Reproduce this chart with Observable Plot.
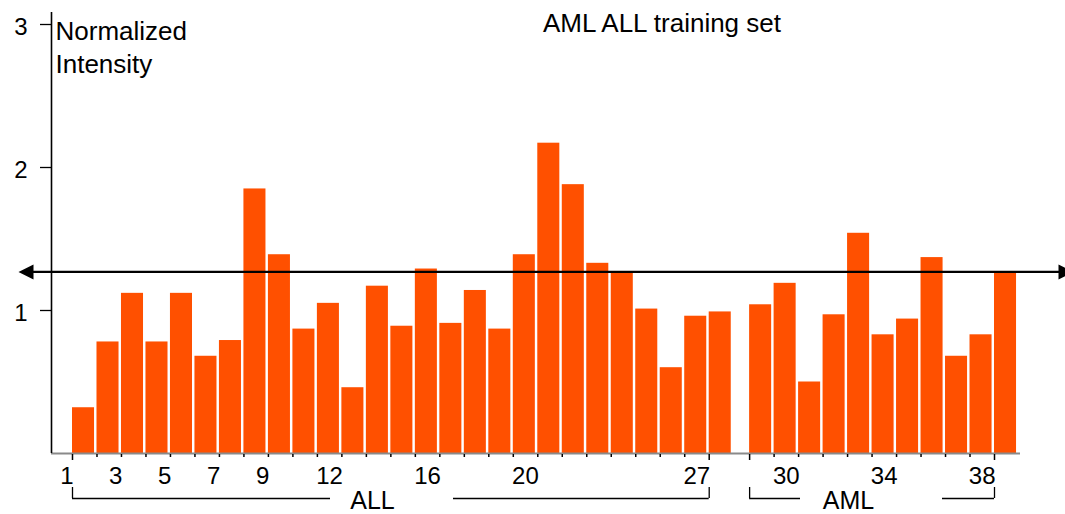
<!DOCTYPE html>
<html>
<head>
<meta charset="utf-8">
<script src="https://cdn.jsdelivr.net/npm/d3@7"></script>
<script src="https://cdn.jsdelivr.net/npm/@observablehq/plot@0.6"></script>
<style>
  html, body { margin: 0; padding: 0; background: #fff; overflow: hidden; }
</style>
</head>
<body>
<div id="chart"></div>
<script>
// ---- data ----
const title = "AML ALL training set";
const yLabel = "Normalized\nIntensity";
const groups = ["ALL", "AML"];
const allValues = [0.32, 0.78, 1.12, 0.78, 1.12, 0.68, 0.79, 1.85, 1.39, 0.87,
                   1.05, 0.46, 1.17, 0.89, 1.29, 0.91, 1.14, 0.87, 1.39, 2.17,
                   1.88, 1.33, 1.27, 1.01, 0.60, 0.96, 0.99];
const amlValues = [1.04, 1.19, 0.50, 0.97, 1.54, 0.83, 0.94, 1.37, 0.68, 0.83, 1.26];
const xTickLabels = [1, 3, 5, 7, 9, 12, 16, 20, 27, 30, 34, 38];
const yTicks = [1, 2, 3];
const threshold = 1.27;

// ---- layout ----
const groupGap = 0.65;     // extra slot space between ALL and AML
const barFrac = 0.9;       // bar width as a fraction of a slot
const nAll = allValues.length;
const slot = (i) => (i - 1) + (i > nAll ? groupGap : 0);

const samples = [
  ...allValues.map((v, k) => ({sample: k + 1, group: "ALL", value: v})),
  ...amlValues.map((v, k) => ({sample: nAll + k + 1, group: "AML", value: v}))
].map(d => ({...d, u: slot(d.sample)}));

const lastSlot = slot(samples.length);
const xRange = [72, 994];
const pxPerU = (xRange[1] - xRange[0]) / lastSlot;
const toU = (px) => (px - xRange[0]) / pxPerU;
const axisU = toU(51);

const groupEnds = groups.map(g => {
  const s = samples.filter(d => d.group === g);
  return {group: g, first: s[0].u, last: s[s.length - 1].u};
});
const longTickSamples = new Set(groups.flatMap(g => {
  const s = samples.filter(d => d.group === g);
  return [s[0].sample, s[s.length - 1].sample];
}));

const bracketPx = {ALL: {text: 372, gapFrom: 330, gapTo: 453},
                   AML: {text: 848, gapFrom: 800, gapTo: 942}};
const bracketSegments = groupEnds.flatMap(e => [
  {x1: e.first, x2: toU(bracketPx[e.group].gapFrom)},
  {x1: toU(bracketPx[e.group].gapTo), x2: e.last}
]);
const bracketText = groupEnds.map(e => ({group: e.group, u: toU(bracketPx[e.group].text)}));

const labelData = xTickLabels.map(n => ({label: String(n), u: slot(n)}));

const triRight = {draw(ctx, size) { const r = Math.sqrt(size / Math.PI); ctx.moveTo(r, 0); ctx.lineTo(-r, -r); ctx.lineTo(-r, r); ctx.closePath(); }};
const triLeft  = {draw(ctx, size) { const r = Math.sqrt(size / Math.PI); ctx.moveTo(-r, 0); ctx.lineTo(r, -r); ctx.lineTo(r, r); ctx.closePath(); }};

const font = "'Liberation Sans', Arial, Helvetica, sans-serif";

const chart = Plot.plot({
  width: 1065,
  height: 514,
  margin: 0,
  style: {fontFamily: font, fontSize: "24px", background: "#fff", color: "#000", overflow: "hidden"},
  x: {domain: [0, lastSlot], range: xRange, axis: null},
  y: {domain: [0, 3], range: [453, 24], axis: null},
  marks: [
    // bars
    Plot.rect(samples, {x1: "u", x2: d => d.u + barFrac, y1: 0, y2: "value", fill: "#ff5000"}),
    // x baseline (gray)
    Plot.ruleY([0], {x1: axisU, x2: toU(1020), stroke: "#8a8a8a", strokeWidth: 2}),
    // y axis line
    Plot.ruleX([axisU], {y1: 0, y2: 3.084, stroke: "#000", strokeWidth: 1.6}),
    // y ticks
    Plot.ruleY(yTicks, {x1: axisU, x2: axisU, insetLeft: -11, stroke: "#000", strokeWidth: 1.3}),
    Plot.text(yTicks, {x: axisU, y: d => d, text: d => String(d), textAnchor: "end", dx: -24, dy: 3, fontSize: 24}),
    // x ticks at bar left edges
    Plot.ruleX(samples.filter(d => !longTickSamples.has(d.sample)), {x: "u", y1: 0, y2: 0, insetTop: 1, insetBottom: -4, stroke: "#000", strokeWidth: 1.5}),
    Plot.ruleX(samples.filter(d => longTickSamples.has(d.sample)), {x: "u", y1: 0, y2: 0, insetTop: 1, insetBottom: -7, stroke: "#000", strokeWidth: 1.5}),
    // x tick labels (right-aligned to tick)
    Plot.text(labelData, {x: "u", y: 0, text: "label", textAnchor: "end", lineAnchor: "bottom", dx: 1, dy: 30, fontSize: 24}),
    // group brackets
    Plot.ruleX(groupEnds.flatMap(e => [e.first, e.last]), {y1: 0, y2: 0, insetTop: 34, insetBottom: -45, stroke: "#000", strokeWidth: 1.3}),
    Plot.ruleY(bracketSegments, {x1: "x1", x2: "x2", y: () => 0, dy: 45, stroke: "#000", strokeWidth: 1.3}),
    Plot.text(bracketText, {x: "u", y: 0, text: "group", lineAnchor: "bottom", dy: 55, fontSize: 25}),
    // threshold double arrow
    Plot.ruleY([threshold], {insetLeft: 26, insetRight: 6, stroke: "#000", strokeWidth: 2.2}),
    Plot.dot([threshold], {y: d => d, frameAnchor: "left", dx: 25.5, symbol: triLeft, r: 7.5, fill: "#000", stroke: null}),
    Plot.dot([threshold], {y: d => d, frameAnchor: "right", dx: 0.5, symbol: triRight, r: 7.5, fill: "#000", stroke: null}),
    // title and y label
    Plot.text([title], {frameAnchor: "top-left", text: d => d, textAnchor: "middle", lineAnchor: "bottom", dx: 661.5, dy: 31, fontSize: 26}),
    Plot.text([yLabel], {frameAnchor: "top-left", text: d => d, textAnchor: "start", lineAnchor: "top", lineHeight: 1.25, dx: 55, dy: 16.5, fontSize: 26})
  ]
});
document.getElementById("chart").appendChild(chart);
</script>
</body>
</html>
